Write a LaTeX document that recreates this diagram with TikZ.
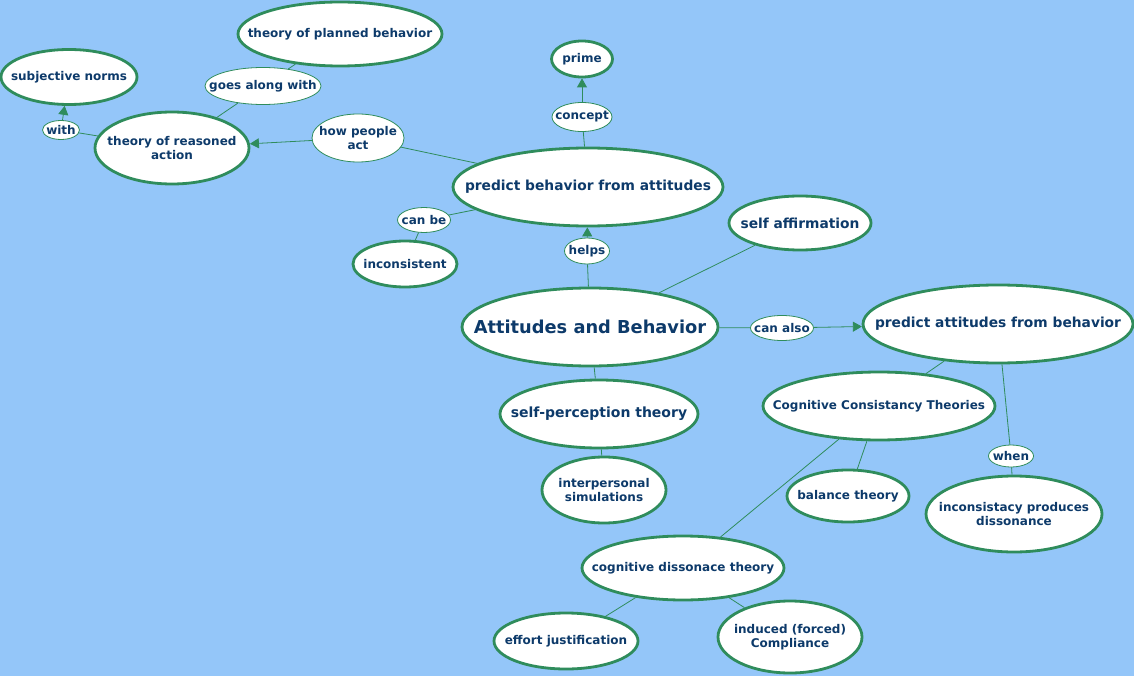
\documentclass[tikz,border=0pt]{standalone}
\usepackage{fontspec}
\setmainfont{DejaVu Sans}
\usetikzlibrary{shapes.geometric,arrows.meta}
\definecolor{bg}{HTML}{94C6F9}
\definecolor{edge}{HTML}{2F8C5C}
\definecolor{ink}{HTML}{0D3A6A}
\tikzset{
  concept/.style={ellipse, draw=edge, line width=2.8pt, fill=white, inner xsep=-300pt, inner ysep=-200pt, align=center, text=ink, font=\bfseries\fontsize{12}{14.5}\selectfont},
  link/.style={ellipse, draw=edge, line width=0.8pt, fill=white, inner xsep=-300pt, inner ysep=-200pt, align=center, text=ink, font=\bfseries\fontsize{12}{14.5}\selectfont},
  conn/.style={draw=edge, line width=0.8pt},
  arr/.style={conn, -{Triangle[width=10pt,length=9pt]}},
}
\begin{document}
\begin{tikzpicture}[x=1pt,y=-1pt]
\fill[bg] (0,0) rectangle (1134,676);
\useasboundingbox (0,0) rectangle (1134,676);

% concepts
\node[concept, minimum width=204pt, minimum height=64pt] (tpb) at (340,34) {theory of planned behavior};
\node[concept, minimum width=136pt, minimum height=55pt] (sn) at (69,77) {subjective norms};
\node[concept, minimum width=154pt, minimum height=72pt] (tra) at (172,148) {theory of reasoned\\action};
\node[concept, minimum width=61pt, minimum height=36pt] (prime) at (582,59) {prime};
\node[concept, minimum width=270pt, minimum height=78pt, font=\bfseries\fontsize{13.8}{16}\selectfont] (pba) at (588,187) {predict behavior from attitudes};
\node[concept, minimum width=104pt, minimum height=46pt] (inc) at (405,264) {inconsistent};
\node[concept, minimum width=142pt, minimum height=54pt, font=\bfseries\fontsize{13.8}{16}\selectfont] (sa) at (800,223) {self affirmation};
\node[concept, minimum width=256pt, minimum height=78pt, font=\bfseries\fontsize{17.8}{21}\selectfont] (ab) at (590,327) {Attitudes and Behavior};
\node[concept, minimum width=270pt, minimum height=78pt, font=\bfseries\fontsize{13.8}{16}\selectfont] (pab) at (998,324) {predict attitudes from behavior};
\node[concept, minimum width=232pt, minimum height=68pt] (cct) at (879,406) {Cognitive Consistancy Theories};
\node[concept, minimum width=176pt, minimum height=76pt] (ipd) at (1014,514) {inconsistacy produces\\dissonance};
\node[concept, minimum width=122pt, minimum height=52pt] (bt) at (848,496) {balance theory};
\node[concept, minimum width=198pt, minimum height=68pt, font=\bfseries\fontsize{14}{16}\selectfont] (spt) at (599,414) {self-perception theory};
\node[concept, minimum width=124pt, minimum height=66pt] (is) at (604,490) {interpersonal\\simulations};
\node[concept, minimum width=202pt, minimum height=64pt] (cdt) at (683,568) {cognitive dissonace theory};
\node[concept, minimum width=144pt, minimum height=56pt] (ej) at (566,641) {effort justification};
\node[concept, minimum width=144pt, minimum height=72pt] (ifc) at (790,637) {induced (forced)\\Compliance};

% linking phrases
\node[link, minimum width=116pt, minimum height=37pt] (gaw) at (263,86) {goes along with};
\node[link, minimum width=37pt, minimum height=19pt] (with) at (61,130) {with};
\node[link, minimum width=92pt, minimum height=48pt] (hpa) at (358,138) {how people\\act};
\node[link, minimum width=60pt, minimum height=29pt] (concept) at (582,117) {concept};
\node[link, minimum width=53pt, minimum height=25pt] (canbe) at (424,220) {can be};
\node[link, minimum width=45pt, minimum height=26pt] (helps) at (587,251) {helps};
\node[link, minimum width=63pt, minimum height=25pt] (canalso) at (782,328) {can also};
\node[link, minimum width=45pt, minimum height=22pt] (when) at (1011,456) {when};

% connectors
\draw[conn] (tpb) -- (gaw);
\draw[conn] (gaw) -- (tra);
\draw[conn] (tra) -- (with);
\draw[arr] (with) -- (sn);
\draw[conn] (pba) -- (hpa);
\draw[arr] (hpa) -- (tra);
\draw[conn] (pba) -- (concept);
\draw[arr] (concept) -- (prime);
\draw[conn] (pba) -- (canbe);
\draw[conn] (canbe) -- (inc);
\draw[conn] (ab) -- (helps);
\draw[arr] (helps) -- (pba);
\draw[conn] (ab) -- (sa);
\draw[conn] (ab) -- (canalso);
\draw[arr] (canalso) -- (pab);
\draw[conn] (ab) -- (spt);
\draw[conn] (spt) -- (is);
\draw[conn] (pab) -- (cct);
\draw[conn] (pab) -- (when);
\draw[conn] (when) -- (ipd);
\draw[conn] (cct) -- (bt);
\draw[conn] (cct) -- (cdt);
\draw[conn] (cdt) -- (ej);
\draw[conn] (cdt) -- (ifc);
\end{tikzpicture}
\end{document}
